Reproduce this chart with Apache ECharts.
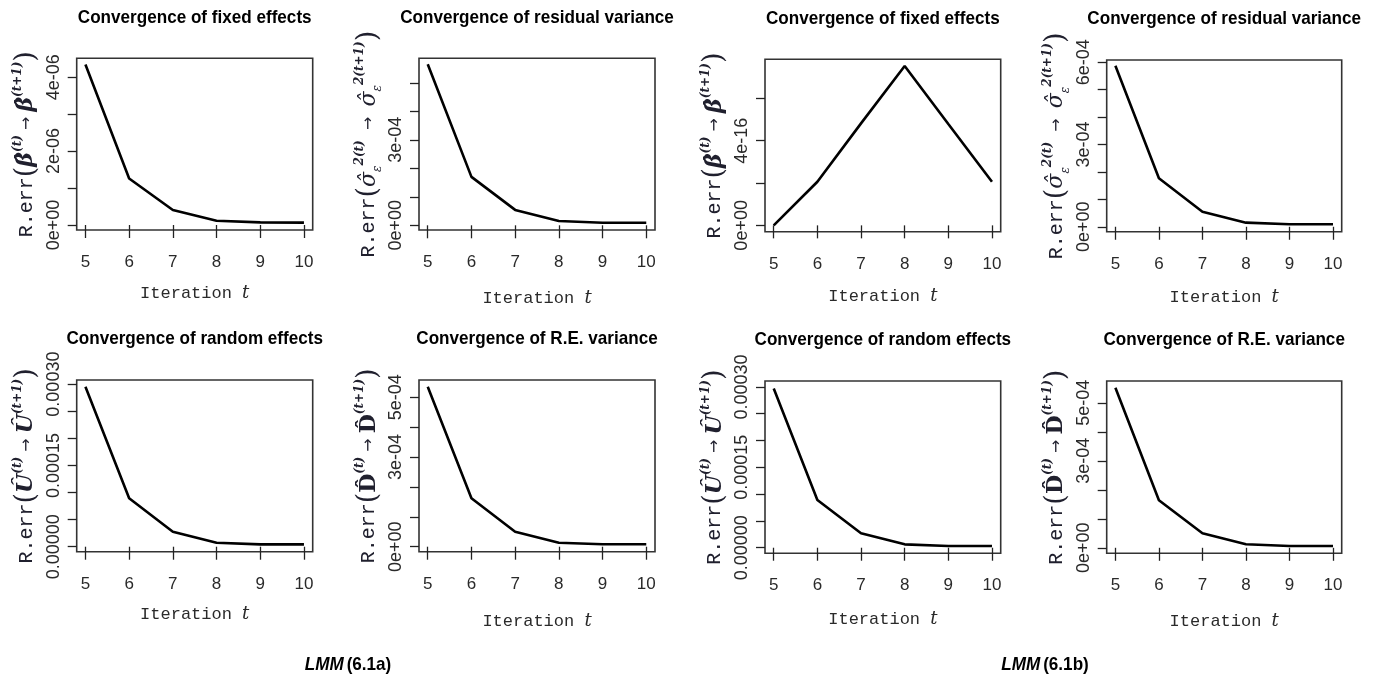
<!DOCTYPE html>
<html>
<head>
<meta charset="utf-8">
<script src="https://cdn.jsdelivr.net/npm/echarts@6/dist/echarts.min.js"></script>
<style>
  html, body { margin: 0; padding: 0; background: #fff; }
  #chart { width: 1376px; height: 680px; }
</style>
</head>
<body>
<div id="chart"></div>
<script>
// iterations on the x axis (same for every panel)
var iterations = [5, 6, 7, 8, 9, 10];

// LMM (6.1a)
var fixedA    = [4.34e-6, 1.26e-6, 0.405e-6, 0.115e-6, 0.07e-6, 0.065e-6];
var residA    = [5.65e-4, 1.70e-4, 0.54e-4, 0.15e-4, 0.09e-4, 0.09e-4];
var randomA   = [2.95e-4, 0.893e-4, 0.277e-4, 0.074e-4, 0.044e-4, 0.044e-4];
var reVarA    = [5.35e-4, 1.62e-4, 0.50e-4, 0.13e-4, 0.08e-4, 0.08e-4];

// LMM (6.1b)
var fixedB    = [0, 2.06e-16, 4.82e-16, 7.53e-16, 4.79e-16, 2.06e-16];
var residB    = [5.87e-4, 1.77e-4, 0.55e-4, 0.15e-4, 0.09e-4, 0.09e-4];
var randomB   = [2.97e-4, 0.89e-4, 0.27e-4, 0.063e-4, 0.032e-4, 0.032e-4];
var reVarB    = [5.52e-4, 1.64e-4, 0.50e-4, 0.12e-4, 0.06e-4, 0.06e-4];

// x ticks
var xTicks = [5, 6, 7, 8, 9, 10];

// y ticks and labels
var yTicksFixedA = [0, 1e-6, 2e-6, 3e-6, 4e-6];
var yLabValFixedA = [0, 2e-6, 4e-6];
var yLabFixedA = ['0e+00', '2e-06', '4e-06'];

var yTicksResidA = [0, 1e-4, 2e-4, 3e-4, 4e-4, 5e-4];
var yLabValResidA = [0, 3e-4];
var yLabResidA = ['0e+00', '3e-04'];

var yTicksFixedB = [0, 2e-16, 4e-16, 6e-16];
var yLabValFixedB = [0, 4e-16];
var yLabFixedB = ['0e+00', '4e-16'];

var yTicksResidB = [0, 1e-4, 2e-4, 3e-4, 4e-4, 5e-4, 6e-4];
var yLabValResidB = [0, 3e-4, 6e-4];
var yLabResidB = ['0e+00', '3e-04', '6e-04'];

var yTicksRandom = [0, 0.5e-4, 1e-4, 1.5e-4, 2e-4, 2.5e-4, 3e-4];
var yLabValRandom = [0, 1.5e-4, 3e-4];
var yLabRandom = ['0.00000', '0.00015', '0.00030'];

var yTicksReVar = [0, 1e-4, 2e-4, 3e-4, 4e-4, 5e-4];
var yLabValReVar = [0, 3e-4, 5e-4];
var yLabReVar = ['0e+00', '3e-04', '5e-04'];

var titles = [
  'Convergence of fixed effects', 'Convergence of residual variance',
  'Convergence of fixed effects', 'Convergence of residual variance',
  'Convergence of random effects', 'Convergence of R.E. variance',
  'Convergence of random effects', 'Convergence of R.E. variance'
];

var yNames = {
  beta: '{m|R.err}{p|(}{b|β̂}{s|(t)}{a| → }{b|β̂}{s|(t+1)}{p|)}',
  sigma: '{m|R.err}{p|(}{g|σ̂}{e|ε}{s|2(t)}{a|  →  }{g|σ̂}{e|ε}{s|2(t+1)}{p|)}',
  u: '{m|R.err}{p|(}{b|Û}{s|(t)}{a| → }{b|Û}{s|(t+1)}{p|)}',
  d: '{m|R.err}{p|(}{d|D̂}{s|(t)}{a| → }{d|D̂}{s|(t+1)}{p|)}'
};

var panels = [
  { data: fixedA,  name: yNames.beta,  min: -0.135e-6, max: 4.51e-6,  ticks: yTicksFixedA, lv: yLabValFixedA, lab: yLabFixedA, box: [76.7, 58.3, 236, 171.7], xGap: 54 },
  { data: residA,  name: yNames.sigma, min: -0.165e-4, max: 5.86e-4,  ticks: yTicksResidA, lv: yLabValResidA, lab: yLabResidA, box: [419, 58.3, 236, 171.7],  xGap: 59 },
  { data: fixedB,  name: yNames.beta,  min: -0.30e-16, max: 7.85e-16, ticks: yTicksFixedB, lv: yLabValFixedB, lab: yLabFixedB, box: [765, 59.3, 235.7, 172.4], xGap: 56 },
  { data: residB,  name: yNames.sigma, min: -0.18e-4,  max: 6.08e-4,  ticks: yTicksResidB, lv: yLabValResidB, lab: yLabResidB, box: [1106.7, 60, 235, 171.7], xGap: 57 },
  { data: randomA, name: yNames.u,     min: -0.092e-4, max: 3.076e-4, ticks: yTicksRandom, lv: yLabValRandom, lab: yLabRandom, box: [76.7, 380, 236, 171.7],  xGap: 54 },
  { data: reVarA,  name: yNames.d,     min: -0.167e-4, max: 5.575e-4, ticks: yTicksReVar,  lv: yLabValReVar,  lab: yLabReVar,  box: [419, 380, 236, 171.7],   xGap: 61 },
  { data: randomB, name: yNames.u,     min: -0.104e-4, max: 3.11e-4,  ticks: yTicksRandom, lv: yLabValRandom, lab: yLabRandom, box: [765, 381, 235.7, 172.3], xGap: 57 },
  { data: reVarB,  name: yNames.d,     min: -0.19e-4,  max: 5.75e-4,  ticks: yTicksReVar,  lv: yLabValReVar,  lab: yLabReVar,  box: [1106.7, 381, 235, 172.3], xGap: 59 }
];

var nameColor = '#20202e';
var serif = '"DejaVu Serif", "Liberation Serif", serif';

var nameRich = {
  m: { fontFamily: '"Liberation Mono", "DejaVu Sans Mono", monospace', fontSize: 20, color: nameColor, lineHeight: 30 },
  p: { fontFamily: serif, fontSize: 27, color: nameColor, lineHeight: 30 },
  b: { fontFamily: serif, fontSize: 22, fontWeight: 'bold', fontStyle: 'italic', color: nameColor, lineHeight: 30 },
  d: { fontFamily: serif, fontSize: 22, fontWeight: 'bold', color: nameColor, lineHeight: 30 },
  g: { fontFamily: serif, fontSize: 22, fontStyle: 'italic', color: nameColor, lineHeight: 30 },
  s: { fontFamily: serif, fontSize: 12, fontWeight: 'bold', fontStyle: 'italic', color: nameColor, verticalAlign: 'top', lineHeight: 15 },
  e: { fontFamily: serif, fontSize: 12, fontStyle: 'italic', color: nameColor, verticalAlign: 'bottom', lineHeight: 15 },
  a: { fontFamily: '"DejaVu Sans", sans-serif', fontSize: 16, color: nameColor, lineHeight: 30 }
};

function closestLabel(v, vals, labs) {
  var best = 0;
  for (var i = 1; i < vals.length; i++) {
    if (Math.abs(vals[i] - v) < Math.abs(vals[best] - v)) best = i;
  }
  return labs[best];
}

var grids = [], xAxes = [], yAxes = [], series = [], graphics = [];

panels.forEach(function (p, i) {
  grids.push({
    left: p.box[0], top: p.box[1], width: p.box[2], height: p.box[3],
    show: true, borderColor: '#333', borderWidth: 1.6, backgroundColor: 'transparent',
    containLabel: false, outerBoundsMode: 'none'
  });

  xAxes.push({
    type: 'value', gridIndex: i, min: 4.8, max: 10.2,
    axisLine: { show: false },
    splitLine: { show: false },
    axisTick: { show: true, inside: false, length: 13, customValues: xTicks, lineStyle: { color: '#222', width: 1.3 } },
    axisLabel: {
      customValues: xTicks, margin: 24, color: '#2a2a2a',
      fontFamily: '"Liberation Sans Narrow", "Liberation Sans", Arial, sans-serif', fontSize: 17
    },
    name: '{m|Iteration }{t|t}',
    nameLocation: 'middle', nameGap: p.xGap, nameMoveOverlap: false,
    nameTextStyle: {
      rich: {
        m: { fontFamily: '"Liberation Mono", "DejaVu Sans Mono", monospace', fontSize: 17, color: '#2a2a2a' },
        t: { fontFamily: serif, fontStyle: 'italic', fontSize: 18, color: '#2a2a2a' }
      }
    }
  });

  yAxes.push({
    type: 'value', gridIndex: i, min: p.min, max: p.max,
    axisLine: { show: false },
    splitLine: { show: false },
    axisTick: { show: true, inside: false, length: 9, customValues: p.ticks, lineStyle: { color: '#222', width: 1.3 } },
    axisLabel: {
      customValues: p.lv, rotate: 90, margin: 14, color: '#2a2a2a',
      fontFamily: '"Liberation Sans", Arial, sans-serif', fontSize: 18,
      formatter: (function (vals, labs) {
        return function (v) { return closestLabel(v, vals, labs); };
      })(p.lv, p.lab)
    },
    name: p.name,
    nameLocation: 'middle', nameRotate: 90, nameGap: 35, nameMoveOverlap: false,
    nameTextStyle: { rich: nameRich }
  });

  series.push({
    type: 'line', xAxisIndex: i, yAxisIndex: i,
    data: iterations.map(function (t, k) { return [t, p.data[k]]; }),
    showSymbol: false, silent: true,
    lineStyle: { color: '#000', width: 2.6 }
  });

  graphics.push({
    type: 'text',
    x: p.box[0] + p.box[2] / 2, y: p.box[1] - 41,
    scaleX: 0.9,
    style: {
      text: titles[i],
      font: 'bold 19px "Liberation Sans", Arial, sans-serif',
      fill: '#000',
      align: 'center', verticalAlign: 'middle',
      textAlign: 'center', textVerticalAlign: 'middle'
    }
  });
});

var captions = [
  { text: '{i|LMM} {n|(6.1a)}', x: 348, y: 665 },
  { text: '{i|LMM} {n|(6.1b)}', x: 1045, y: 665 }
];
captions.forEach(function (c) {
  graphics.push({
    type: 'text', x: c.x, y: c.y, scaleX: 0.9,
    style: {
      text: c.text,
      align: 'center', verticalAlign: 'middle',
      textAlign: 'center', textVerticalAlign: 'middle',
      rich: {
        i: { fontFamily: '"Liberation Sans", Arial, sans-serif', fontWeight: 'bold', fontStyle: 'italic', fontSize: 19, fill: '#000' },
        n: { fontFamily: '"Liberation Sans", Arial, sans-serif', fontWeight: 'bold', fontSize: 19, fill: '#000' }
      }
    }
  });
});

var chart = echarts.init(document.getElementById('chart'), null, { renderer: 'canvas' });
chart.setOption({
  animation: false,
  backgroundColor: '#fff',
  grid: grids,
  xAxis: xAxes,
  yAxis: yAxes,
  series: series,
  graphic: { elements: graphics }
});
</script>
</body>
</html>
